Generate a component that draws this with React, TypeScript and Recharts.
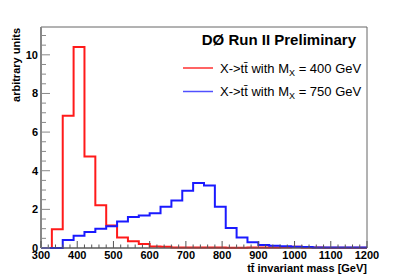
import { ComposedChart, Line, XAxis, YAxis, ReferenceArea } from 'recharts';

// lower edges of the 30 GeV bins
const binEdges = [
  300, 330, 360, 390, 420, 450, 480, 510, 540, 570,
  600, 630, 660, 690, 720, 750, 780, 810, 840, 870,
  900, 930, 960, 990, 1020, 1050, 1080, 1110, 1140, 1170,
];
const massUpper = 1200;

const red400 = [
  0, 0.97, 6.85, 10.4, 4.74, 2.21, 1.16, 0.55, 0.35, 0.21,
  0.08, 0.06, 0.03, 0.03, 0.02, 0.02, 0.02, 0.01, 0.01, 0.02,
  0.02, 0.03, 0.04, 0.07, 0.03, 0.02, 0.01, 0.01, 0.01, 0.01,
];
const blue750 = [
  0, 0, 0.41, 0.64, 0.83, 1.0, 1.12, 1.37, 1.6, 1.68,
  1.8, 2.14, 2.46, 2.96, 3.36, 3.24, 2.13, 1.04, 0.55, 0.3,
  0.16, 0.12, 0.09, 0.06, 0.05, 0.03, 0.02, 0.02, 0.02, 0.02,
];

const xMajorTicks = [300, 400, 500, 600, 700, 800, 900, 1000, 1100, 1200];
const yMajorTicks = [0, 2, 4, 6, 8, 10];
const yMax = 11.44;

const data = [
  ...binEdges.map((x, i) => ({ x, red: red400[i], blue: blue750[i] })),
  { x: massUpper, red: red400[red400.length - 1], blue: blue750[blue750.length - 1] },
];

// minor tick positions (every 20 GeV / every 0.5 unit)
const xTicks: number[] = [];
for (let v = 300; v <= 1200; v += 20) xTicks.push(v);
const yTicks: number[] = [];
for (let v = 0; v <= 11; v += 0.5) yTicks.push(v);

const FONT = '"Liberation Sans", Arial, Helvetica, sans-serif';

const XTick = (props: any) => {
  const { x, y, payload } = props;
  const major = xMajorTicks.includes(payload.value);
  return (
    <g>
      <line x1={x} x2={x} y1={y} y2={y - (major ? 7 : 3.5)} stroke="#555" />
      {major && (
        <text x={x} y={y + 11} textAnchor="middle" fontSize={11} fontWeight="bold" fontFamily={FONT} fill="#000">
          {payload.value}
        </text>
      )}
    </g>
  );
};

const YTick = (props: any) => {
  const { x, y, payload } = props;
  const major = yMajorTicks.includes(payload.value);
  return (
    <g>
      <line x1={x} x2={x + (major ? 9 : 5)} y1={y} y2={y} stroke="#888" />
      {major && (
        <text x={x - 3} y={y + 4} textAnchor="end" fontSize={11} fontWeight="bold" fontFamily={FONT} fill="#000">
          {payload.value}
        </text>
      )}
    </g>
  );
};

export default function App() {
  return (
    <div style={{ position: 'absolute', left: 0, top: 0, width: 409, height: 277, background: '#fff' }}>
      <ComposedChart width={409} height={277} data={data} margin={{ top: 27, right: 42, left: 0, bottom: 0 }}>
        <ReferenceArea x1={300} x2={1200} y1={0} y2={yMax} fill="none" stroke="#666" strokeWidth={1} ifOverflow="visible" />
        <XAxis
          type="number"
          dataKey="x"
          domain={[300, 1200]}
          ticks={xTicks}
          interval={0}
          height={29}
          tickSize={0}
          tickMargin={0}
          tickLine={false}
          axisLine={{ stroke: '#555' }}
          tick={<XTick />}
        />
        <YAxis
          type="number"
          domain={[0, yMax]}
          ticks={yTicks}
          interval={0}
          width={41}
          tickSize={0}
          tickMargin={0}
          tickLine={false}
          axisLine={{ stroke: '#888', strokeWidth: 2 }}
          tick={<YTick />}
        />
        <Line type="stepAfter" dataKey="red" stroke="#ff1a1a" strokeWidth={2} dot={false} isAnimationActive={false} />
        <Line type="stepAfter" dataKey="blue" stroke="#1a1aff" strokeWidth={2} dot={false} isAnimationActive={false} />
      </ComposedChart>
      <svg width={409} height={277} style={{ position: 'absolute', left: 0, top: 0, pointerEvents: 'none' }}>
        <text x={356} y={45} textAnchor="end" fontSize={15} fontWeight="bold" fontFamily={FONT} fill="#000">
          DØ Run II Preliminary
        </text>
        <line x1={183} x2={213} y1={68} y2={68} stroke="#ff3030" strokeWidth={1.5} />
        <text x={220} y={72.5} fontSize={13} fontFamily={FONT} fill="#000">
          X-&gt;tt{'\u0304'} with M<tspan fontSize={9} dy={3}>X</tspan>
          <tspan dy={-3}> = 400 GeV</tspan>
        </text>
        <line x1={183} x2={213} y1={91.5} y2={91.5} stroke="#5050ff" strokeWidth={1.5} />
        <text x={220} y={96} fontSize={13} fontFamily={FONT} fill="#000">
          X-&gt;tt{'\u0304'} with M<tspan fontSize={9} dy={3}>X</tspan>
          <tspan dy={-3}> = 750 GeV</tspan>
        </text>
        <text x={367} y={272} textAnchor="end" fontSize={11} fontWeight="bold" fontFamily={FONT} fill="#000">
          tt{'\u0304'} invariant mass [GeV]
        </text>
        <text
          x={20}
          y={28}
          transform="rotate(-90 20 28)"
          textAnchor="end"
          fontSize={11}
          fontWeight="bold"
          fontFamily={FONT}
          fill="#000"
        >
          arbitrary units
        </text>
      </svg>
    </div>
  );
}
